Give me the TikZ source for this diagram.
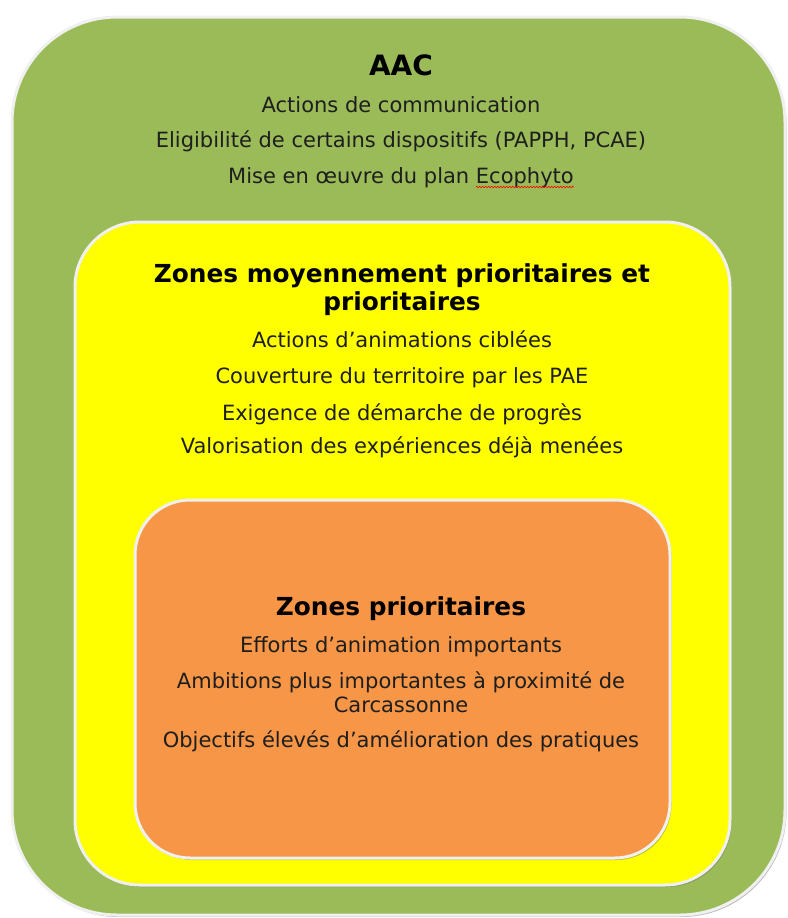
\documentclass[tikz,border=0pt]{standalone}
\usepackage{fontspec}
\setmainfont{DejaVu Sans}
\usetikzlibrary{shadows,decorations.pathmorphing}
\definecolor{aacgreen}{HTML}{9BBB59}
\definecolor{zmpyellow}{HTML}{FFFF00}
\definecolor{zporange}{HTML}{F79646}
\definecolor{rimgray}{HTML}{F0F0F0}
\definecolor{txtgray}{HTML}{1E1E1E}

\begin{document}
\begin{tikzpicture}[x=1pt,y=-1pt,
  zone/.style={draw=rimgray,line width=3pt,
    drop shadow={shadow xshift=1.5pt,shadow yshift=-2pt,opacity=.45,fill=black!60}},
  title/.style={font=\fontsize{24.8}{29}\selectfont\bfseries,text=black,anchor=base,inner sep=0pt},
  item/.style={font=\fontsize{21}{25}\selectfont,text=txtgray,anchor=base,inner sep=0pt},
  spellmark/.style={red,line width=.6pt,decorate,
    decoration={snake,amplitude=.8pt,segment length=3pt}}]
  \useasboundingbox (0,0) rectangle (787,918);

  % Three nested zones, outermost first.
  \draw[zone,fill=aacgreen,rounded corners=105pt] (12,17) rectangle (785,915);
  \draw[zone,fill=zmpyellow,rounded corners=65pt] (75,222) rectangle (730,885);
  \draw[zone,fill=zporange,rounded corners=55pt] (135,500) rectangle (670,858);

  % AAC
  \node[title,font=\fontsize{28}{32}\selectfont\bfseries] (aac) at (401,75) {AAC};
  \node[item] (aac1) at (401,112) {Actions de communication};
  \node[item] (aac2) at (401,147) {Eligibilité de certains dispositifs (PAPPH, PCAE)};
  \node[item] (aac3) at (401,183) {Mise en œuvre du plan Ecophyto};
  \node[item,anchor=base east] (eco) at (aac3.base east) {\phantom{Ecophyto}};
  \draw[spellmark] ([yshift=-4pt]eco.base west) -- ([yshift=-4pt]eco.base east);

  % Zones moyennement prioritaires et prioritaires
  \node[title] (zmp) at (402,282) {Zones moyennement prioritaires et};
  \node[title] (zmpb) at (402,310) {prioritaires};
  \node[item] (zmp1) at (402,347) {Actions d’animations ciblées};
  \node[item] (zmp2) at (402,383) {Couverture du territoire par les PAE};
  \node[item] (zmp3) at (402,420) {Exigence de démarche de progrès};
  \node[item] (zmp4) at (402,453) {Valorisation des expériences déjà menées};

  % Zones prioritaires
  \node[title] (zp) at (401,615) {Zones prioritaires};
  \node[item] (zp1) at (401,652) {Efforts d’animation importants};
  \node[item] (zp2) at (401,688) {Ambitions plus importantes à proximité de};
  \node[item] (zp2b) at (401,712) {Carcassonne};
  \node[item] (zp3) at (401,747) {Objectifs élevés d’amélioration des pratiques};
\end{tikzpicture}
\end{document}
